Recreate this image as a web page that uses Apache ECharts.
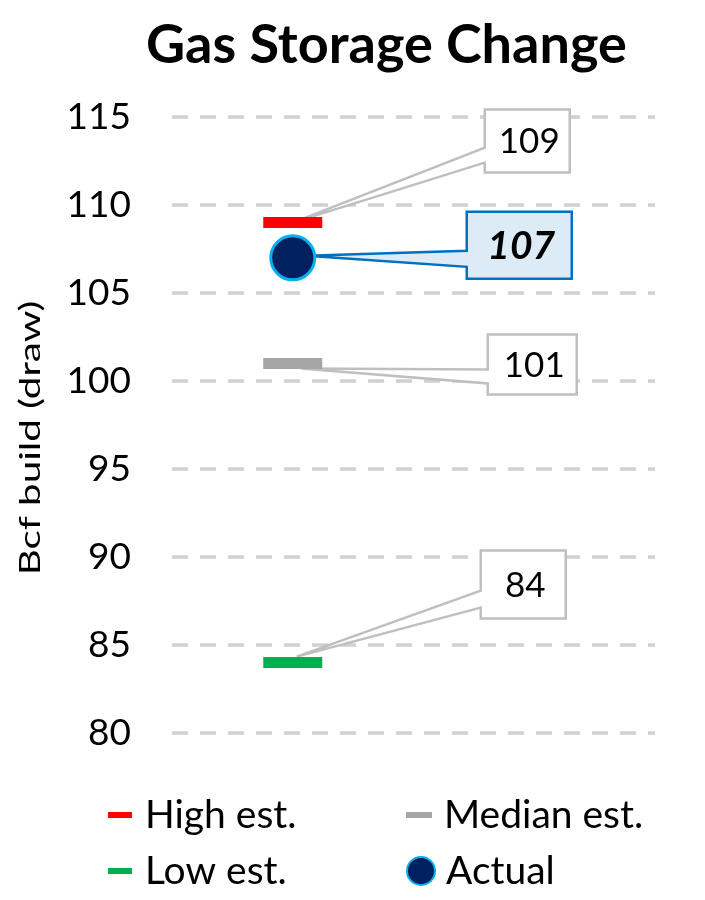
<!DOCTYPE html>
<html>
<head>
<meta charset="utf-8">
<script src="https://cdn.jsdelivr.net/npm/echarts@6/dist/echarts.min.js"></script>
<style>
  html, body { margin: 0; padding: 0; background: #fff; }
  #chart { width: 705px; height: 900px; }
</style>
</head>
<body>
<div id="chart"></div>
<script>
// data
const categories = ["Week", ""];
const highEst = [109];
const medianEst = [101];
const lowEst = [84];
const actual = [107];
const yTicks = [80, 85, 90, 95, 100, 105, 110, 115];
const yTitle = "Bcf build (draw)";

// callout layout, relative to the point (px)
const calloutLayout = [
  { dx: 192, dy: -113, w: 85, h: 63, a1: 38, a2: 53, tx: 0, ty: 0, hl: false },
  { dx: 174, dy: -46, w: 105, h: 67, a1: 39, a2: 55, tx: 14, ty: -2, hl: true },
  { dx: 195, dy: -29, w: 89, h: 60, a1: 35, a2: 49, tx: 8, ty: 5, hl: false },
  { dx: 188, dy: -112, w: 85, h: 68, a1: 40, a2: 57, tx: 4, ty: -6, hl: false },
];
const calloutValues = [highEst[0], actual[0], medianEst[0], lowEst[0]];

const FONT = "Lato";
const chart = echarts.init(document.getElementById("chart"));

const barSeries = (name, values, color) => ({
  name: name,
  type: "scatter",
  symbol: "rect",
  symbolSize: [59, 11],
  itemStyle: { color: color, opacity: 1 },
  data: values.map(v => [categories[0], v]),
  z: 3,
});

const legendText = { fontFamily: FONT, fontSize: 39, color: "#000", lineHeight: 40 };
const legendItem = (name, icon, left, top, w, h, pad) => ({
  data: [{ name: name, icon: icon }],
  left: left,
  top: top,
  padding: 0,
  itemWidth: w,
  itemHeight: h,
  textStyle: Object.assign({ padding: [0, 0, 0, pad] }, legendText),
});

const option = {
  animation: false,
  title: {
    text: "Gas Storage Change",
    left: 141,
    top: 14,
    textStyle: { fontFamily: FONT, fontWeight: "bold", fontSize: 54, color: "#000" },
  },
  // the y title in the source is stretched along its length
  graphic: [
    {
      type: "text",
      x: 31,
      y: 438,
      rotation: Math.PI / 2,
      scaleX: 1.44,
      style: {
        text: yTitle,
        align: "center",
        verticalAlign: "middle",
        fontFamily: FONT,
        fontSize: 28,
        fill: "#000",
      },
    },
  ],
  grid: { left: 172, right: 50, top: 117, bottom: 167 },
  xAxis: {
    type: "category",
    data: categories,
    show: false,
  },
  yAxis: {
    type: "value",
    min: yTicks[0],
    max: yTicks[yTicks.length - 1],
    interval: 5,
    axisLine: { show: false },
    axisTick: { show: false },
    axisLabel: { fontFamily: FONT, fontSize: 37, color: "#000", margin: 41 },
    splitLine: { lineStyle: { color: "#D0D0D0", width: 3.5, type: [16, 12] } },
  },
  legend: [
    legendItem("High est.", "rect", 108, 795, 24, 6, 8),
    legendItem("Low est.", "rect", 108, 851, 24, 6, 8),
    legendItem("Median est.", "rect", 406, 795, 26, 6, 7),
    legendItem("Actual", "circle", 406, 851, 28, 28, 6),
  ],
  series: [
    barSeries("High est.", highEst, "#FF0000"),
    barSeries("Median est.", medianEst, "#A6A6A6"),
    barSeries("Low est.", lowEst, "#00B050"),
    {
      name: "Actual",
      type: "scatter",
      symbol: "circle",
      symbolSize: 44,
      itemStyle: { color: "#002060", borderColor: "#00B0F0", borderWidth: 3, opacity: 1 },
      data: actual.map(v => [categories[0], v]),
      z: 4,
    },
    {
      name: "callouts",
      type: "custom",
      z: 2,
      data: calloutValues.map(v => [0, v]),
      renderItem: function (params, api) {
        const p = api.coord([api.value(0), api.value(1)]);
        const L = calloutLayout[params.dataIndex];
        const x0 = p[0] + L.dx, y0 = p[1] + L.dy;
        const x1 = x0 + L.w, y1 = y0 + L.h;
        const tip = [p[0] + L.tx, p[1] + L.ty];
        const pts = [
          [x0, y0], [x1, y0], [x1, y1], [x0, y1],
          [x0, y0 + L.a2], tip, [x0, y0 + L.a1],
        ];
        return {
          type: "group",
          children: [
            {
              type: "polygon",
              shape: { points: pts },
              style: {
                fill: L.hl ? "#DDEBF7" : "#FFFFFF",
                stroke: L.hl ? "#0070C0" : "#BFBFBF",
                lineWidth: 2.5,
                lineJoin: "miter",
              },
            },
            {
              type: "text",
              style: {
                text: String(api.value(1)),
                x: (x0 + x1) / 2 + 2,
                y: (y0 + y1) / 2 + 1,
                align: "center",
                verticalAlign: "middle",
                fontFamily: FONT,
                fontSize: L.hl ? 39 : 35,
                fontWeight: L.hl ? "bold" : "normal",
                fontStyle: L.hl ? "italic" : "normal",
                fill: "#000",
              },
            },
          ],
        };
      },
    },
  ],
};

chart.setOption(option);
window.addEventListener("resize", chart.resize);
</script>
</body>
</html>
